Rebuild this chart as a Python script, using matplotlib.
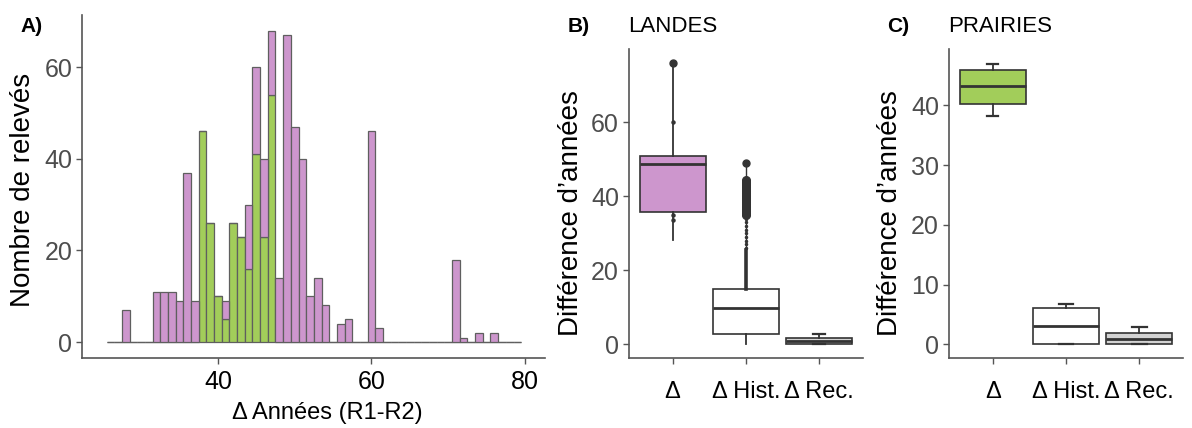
import matplotlib.pyplot as plt

plt.rcParams['font.family'] = ['Liberation Sans', 'DejaVu Sans']

# --- A) histogram of year differences, 1-year bins (centres 26..79) ---
bin_centres = list(range(26, 80))
landes_counts = [0, 0, 7, 0, 0, 0, 11, 11, 11, 9, 37, 9,
                 0, 0, 0, 4, 0, 0, 14, 19, 17, 14,
                 14, 67, 47, 40, 10, 14, 8, 0, 4, 5, 0, 0, 46, 3,
                 0, 0, 0, 0, 0, 0, 0, 0, 0,
                 18, 1, 0, 2, 0, 2, 0, 0, 0]
prairies_counts = [0, 0, 0, 0, 0, 0, 0, 0, 0, 0, 0, 0,
                   46, 26, 10, 5, 26, 23, 16, 41, 23, 54,
                   0, 0, 0, 0, 0, 0, 0, 0, 0, 0, 0, 0, 0, 0,
                   0, 0, 0, 0, 0, 0, 0, 0, 0,
                   0, 0, 0, 0, 0, 0, 0, 0, 0]

# --- B) LANDES boxplots ---
box_labels = ['Δ', 'Δ Hist.', 'Δ Rec.']
landes_whislo = [28.2, 0.0, 0.0]
landes_q1 = [35.7, 2.7, 0.0]
landes_med = [48.8, 9.8, 0.8]
landes_q3 = [51.0, 14.9, 1.8]
landes_whishi = [76.0, 25.5, 2.7]
landes_capwidths = [0.0, 0.0, 0.16]
landes_delta_outliers = [76]
landes_delta_points = [60, 35, 33.5]
landes_hist_outliers_sparse = [26, 27, 28, 29, 30, 31, 32, 33, 34]
landes_hist_outliers_dense = [35, 35.5, 36, 36.5, 37, 37.5, 38, 38.5, 39, 39.5,
                              40, 40.5, 41, 41.5, 42, 42.5, 43, 43.5, 44, 44.5]
landes_hist_outlier_max = [49]

# --- C) PRAIRIES boxplots ---
prairies_whislo = [38.2, 0.0, 0.0]
prairies_q1 = [40.2, 0.0, 0.0]
prairies_med = [43.2, 3.1, 0.95]
prairies_q3 = [46.0, 6.0, 1.9]
prairies_whishi = [46.9, 6.7, 2.9]
prairies_capwidths = [0.15, 0.2, 0.2]

PURPLE = '#CD96CD'
GREEN = '#A2CD5A'
GREYFILL = '#D3D3D3'
TICKCOL = '#4D4D4D'


def style_axes(ax):
    for side in ('top', 'right'):
        ax.spines[side].set_visible(False)
    for side in ('left', 'bottom'):
        ax.spines[side].set_color('#555555')
        ax.spines[side].set_linewidth(1.2)
    ax.tick_params(axis='both', length=4, width=1, color='#555555')
    ax.tick_params(axis='y', labelcolor=TICKCOL, labelsize=18, pad=3)
    ax.tick_params(axis='x', labelcolor='black', labelsize=17)


def draw_boxes(ax, whislo, q1, med, q3, whishi, capwidths, fills):
    stats = []
    for i in range(len(box_labels)):
        stats.append(dict(whislo=whislo[i], q1=q1[i], med=med[i], q3=q3[i],
                          whishi=whishi[i], fliers=[]))
    bp = ax.bxp(stats, positions=[1, 2, 3], widths=0.9, patch_artist=True,
                showfliers=False, capwidths=capwidths,
                boxprops=dict(edgecolor='#333333', linewidth=1.2),
                medianprops=dict(color='#333333', linewidth=2),
                whiskerprops=dict(color='#333333', linewidth=1.3),
                capprops=dict(color='#333333', linewidth=1.6))
    for patch, fc in zip(bp['boxes'], fills):
        patch.set_facecolor(fc)
    ax.set_xticks([1, 2, 3])
    ax.set_xticklabels(box_labels)
    ax.set_xlim(0.4, 3.6)
    return bp


fig = plt.figure(figsize=(11.92, 4.28), dpi=100)
axA = fig.add_axes([0.0688, 0.1643, 0.3884, 0.8007])
axB = fig.add_axes([0.5274, 0.1629, 0.1968, 0.7220])
axC = fig.add_axes([0.7959, 0.1629, 0.1968, 0.7220])

# A
axA.bar(bin_centres, prairies_counts, width=1, color=GREEN,
        edgecolor='#5f5f5f', linewidth=0.9)
axA.bar(bin_centres, landes_counts, width=1, bottom=prairies_counts,
        color=PURPLE, edgecolor='#5f5f5f', linewidth=0.9)
axA.set_xlim(22.3, 82.6)
axA.set_ylim(-3.4, 71.4)
axA.set_xticks([40, 60, 80])
axA.set_yticks([0, 20, 40, 60])
style_axes(axA)
axA.tick_params(axis='x', labelsize=18, pad=5)
axA.set_ylabel('Nombre de relevés', fontsize=20)
axA.set_xlabel('Δ Années (R1-R2)', fontsize=17)
axA.yaxis.set_label_coords(-0.10, 0.49)
axA.xaxis.set_label_coords(0.53, -0.13)

# B
bpB = draw_boxes(axB, landes_whislo, landes_q1, landes_med, landes_q3,
                 landes_whishi, landes_capwidths, [PURPLE, 'white', GREYFILL])
bpB['whiskers'][3].set_linewidth(2.6)  # upper whisker of Δ Hist. looks heavier
axB.plot([1] * len(landes_delta_outliers), landes_delta_outliers, 'o',
         color='#333333', ms=5)
axB.plot([1] * len(landes_delta_points), landes_delta_points, 'o',
         color='#333333', ms=2.2)
axB.plot([2, 2], [landes_hist_outliers_sparse[0], landes_hist_outlier_max[0]],
         '-', color='#333333', lw=1.0)
axB.plot([2] * len(landes_hist_outliers_sparse), landes_hist_outliers_sparse, 'o',
         color='#333333', ms=1.5)
axB.plot([2] * len(landes_hist_outliers_dense), landes_hist_outliers_dense, 'o',
         color='#333333', ms=5.5)
axB.plot([2] * len(landes_hist_outlier_max), landes_hist_outlier_max, 'o',
         color='#333333', ms=5)
axB.set_ylim(-3.8, 79.8)
axB.set_yticks([0, 20, 40, 60])
style_axes(axB)
axB.tick_params(axis='x', pad=12)
axB.set_ylabel('Différence d’années', fontsize=20)
axB.yaxis.set_label_coords(-0.19, 0.47)

# C
draw_boxes(axC, prairies_whislo, prairies_q1, prairies_med, prairies_q3,
           prairies_whishi, prairies_capwidths, [GREEN, 'white', GREYFILL])
axC.set_ylim(-2.35, 49.4)
axC.set_yticks([0, 10, 20, 30, 40])
style_axes(axC)
axC.tick_params(axis='x', pad=12)
axC.set_ylabel('Différence d’années', fontsize=20)
axC.yaxis.set_label_coords(-0.195, 0.47)

# panel tags and titles
fig.text(20 / 1192, 1 - 27 / 428, 'A)', fontsize=15, fontweight='bold', va='center')
fig.text(568 / 1192, 1 - 27 / 428, 'B)', fontsize=15, fontweight='bold', va='center')
fig.text(628 / 1192, 1 - 27 / 428, 'LANDES', fontsize=16, va='center')
fig.text(887 / 1192, 1 - 27 / 428, 'C)', fontsize=15, fontweight='bold', va='center')
fig.text(948 / 1192, 1 - 27 / 428, 'PRAIRIES', fontsize=16, va='center')

fig.savefig('out.png', dpi=100)
